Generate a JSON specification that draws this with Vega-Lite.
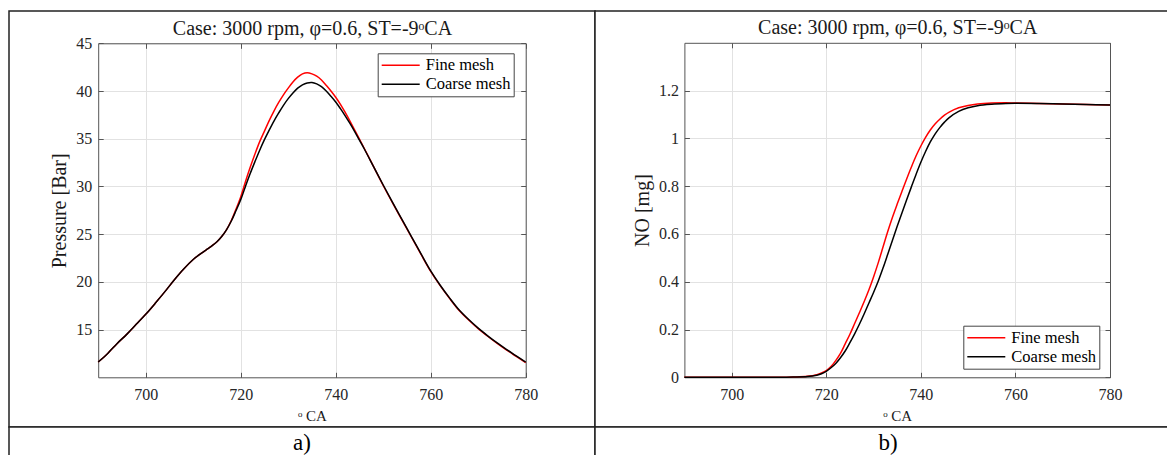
{
  "$schema": "https://vega.github.io/schema/vega-lite/v6.json",
  "background": "white",
  "padding": {"left": 8, "top": 10, "right": 0, "bottom": 0},
  "columns": 2,
  "spacing": 0,
  "bounds": "flush",
  "align": "each",
  "config": {
    "font": "Liberation Serif",
    "view": {"stroke": "#222222", "strokeWidth": 1.5, "fill": "white"},
    "axis": {
      "labelFont": "Liberation Serif",
      "labelFontSize": 16,
      "labelColor": "#262626",
      "labelFlush": false,
      "labelOverlap": false,
      "titleFont": "Liberation Serif",
      "titleFontWeight": "normal",
      "titleColor": "#1a1a1a",
      "domainColor": "#555555",
      "domainWidth": 1,
      "tickColor": "#555555",
      "tickSize": -5,
      "tickWidth": 1,
      "gridColor": "#e2e2e2",
      "gridWidth": 1,
      "minExtent": 0
    },
    "legend": {
      "labelFont": "Liberation Serif",
      "labelFontSize": 16.5,
      "labelColor": "#000000",
      "symbolType": "stroke",
      "symbolSize": 1444,
      "symbolStrokeWidth": 1.5,
      "clipHeight": 18,
      "rowPadding": 1,
      "labelOffset": 5,
      "padding": 3,
      "strokeColor": "#444444",
      "fillColor": "white",
      "cornerRadius": 0
    }
  },
  "resolve": {"scale": {"color": "independent"}, "legend": {"color": "independent"}},
  "datasets": {
    "pres": [
      {"ca": 690, "val": 11.6, "mesh": "Fine mesh"},
      {"ca": 692, "val": 12.5, "mesh": "Fine mesh"},
      {"ca": 694, "val": 13.55, "mesh": "Fine mesh"},
      {"ca": 696, "val": 14.5, "mesh": "Fine mesh"},
      {"ca": 698, "val": 15.55, "mesh": "Fine mesh"},
      {"ca": 700, "val": 16.6, "mesh": "Fine mesh"},
      {"ca": 702, "val": 17.75, "mesh": "Fine mesh"},
      {"ca": 704, "val": 18.95, "mesh": "Fine mesh"},
      {"ca": 706, "val": 20.2, "mesh": "Fine mesh"},
      {"ca": 708, "val": 21.35, "mesh": "Fine mesh"},
      {"ca": 710, "val": 22.35, "mesh": "Fine mesh"},
      {"ca": 712, "val": 23.1, "mesh": "Fine mesh"},
      {"ca": 713, "val": 23.45, "mesh": "Fine mesh"},
      {"ca": 714, "val": 23.8, "mesh": "Fine mesh"},
      {"ca": 715, "val": 24.2, "mesh": "Fine mesh"},
      {"ca": 716, "val": 24.75, "mesh": "Fine mesh"},
      {"ca": 717, "val": 25.45, "mesh": "Fine mesh"},
      {"ca": 718, "val": 26.4, "mesh": "Fine mesh"},
      {"ca": 719, "val": 27.6, "mesh": "Fine mesh"},
      {"ca": 720, "val": 28.9, "mesh": "Fine mesh"},
      {"ca": 721, "val": 30.5, "mesh": "Fine mesh"},
      {"ca": 722, "val": 32.0, "mesh": "Fine mesh"},
      {"ca": 723, "val": 33.4, "mesh": "Fine mesh"},
      {"ca": 724, "val": 34.7, "mesh": "Fine mesh"},
      {"ca": 725, "val": 35.8, "mesh": "Fine mesh"},
      {"ca": 726, "val": 36.9, "mesh": "Fine mesh"},
      {"ca": 727, "val": 37.9, "mesh": "Fine mesh"},
      {"ca": 728, "val": 38.8, "mesh": "Fine mesh"},
      {"ca": 729, "val": 39.6, "mesh": "Fine mesh"},
      {"ca": 730, "val": 40.3, "mesh": "Fine mesh"},
      {"ca": 731, "val": 40.95, "mesh": "Fine mesh"},
      {"ca": 732, "val": 41.45, "mesh": "Fine mesh"},
      {"ca": 733, "val": 41.8, "mesh": "Fine mesh"},
      {"ca": 734, "val": 41.92, "mesh": "Fine mesh"},
      {"ca": 735, "val": 41.8, "mesh": "Fine mesh"},
      {"ca": 736, "val": 41.55, "mesh": "Fine mesh"},
      {"ca": 737, "val": 41.15, "mesh": "Fine mesh"},
      {"ca": 738, "val": 40.6, "mesh": "Fine mesh"},
      {"ca": 739, "val": 40.0, "mesh": "Fine mesh"},
      {"ca": 740, "val": 39.35, "mesh": "Fine mesh"},
      {"ca": 741, "val": 38.6, "mesh": "Fine mesh"},
      {"ca": 742, "val": 37.75, "mesh": "Fine mesh"},
      {"ca": 743, "val": 36.85, "mesh": "Fine mesh"},
      {"ca": 744, "val": 35.9, "mesh": "Fine mesh"},
      {"ca": 745, "val": 34.95, "mesh": "Fine mesh"},
      {"ca": 746, "val": 34.0, "mesh": "Fine mesh"},
      {"ca": 748, "val": 32.05, "mesh": "Fine mesh"},
      {"ca": 750, "val": 30.1, "mesh": "Fine mesh"},
      {"ca": 752, "val": 28.25, "mesh": "Fine mesh"},
      {"ca": 754, "val": 26.45, "mesh": "Fine mesh"},
      {"ca": 756, "val": 24.65, "mesh": "Fine mesh"},
      {"ca": 758, "val": 22.85, "mesh": "Fine mesh"},
      {"ca": 760, "val": 21.1, "mesh": "Fine mesh"},
      {"ca": 762, "val": 19.6, "mesh": "Fine mesh"},
      {"ca": 764, "val": 18.25, "mesh": "Fine mesh"},
      {"ca": 766, "val": 17.0, "mesh": "Fine mesh"},
      {"ca": 768, "val": 16.0, "mesh": "Fine mesh"},
      {"ca": 770, "val": 15.1, "mesh": "Fine mesh"},
      {"ca": 772, "val": 14.3, "mesh": "Fine mesh"},
      {"ca": 774, "val": 13.55, "mesh": "Fine mesh"},
      {"ca": 776, "val": 12.85, "mesh": "Fine mesh"},
      {"ca": 778, "val": 12.2, "mesh": "Fine mesh"},
      {"ca": 780, "val": 11.55, "mesh": "Fine mesh"},
      {"ca": 690, "val": 11.6, "mesh": "Coarse mesh"},
      {"ca": 692, "val": 12.5, "mesh": "Coarse mesh"},
      {"ca": 694, "val": 13.55, "mesh": "Coarse mesh"},
      {"ca": 696, "val": 14.5, "mesh": "Coarse mesh"},
      {"ca": 698, "val": 15.55, "mesh": "Coarse mesh"},
      {"ca": 700, "val": 16.6, "mesh": "Coarse mesh"},
      {"ca": 702, "val": 17.75, "mesh": "Coarse mesh"},
      {"ca": 704, "val": 18.95, "mesh": "Coarse mesh"},
      {"ca": 706, "val": 20.2, "mesh": "Coarse mesh"},
      {"ca": 708, "val": 21.35, "mesh": "Coarse mesh"},
      {"ca": 710, "val": 22.35, "mesh": "Coarse mesh"},
      {"ca": 712, "val": 23.1, "mesh": "Coarse mesh"},
      {"ca": 713, "val": 23.45, "mesh": "Coarse mesh"},
      {"ca": 714, "val": 23.8, "mesh": "Coarse mesh"},
      {"ca": 715, "val": 24.2, "mesh": "Coarse mesh"},
      {"ca": 716, "val": 24.75, "mesh": "Coarse mesh"},
      {"ca": 717, "val": 25.45, "mesh": "Coarse mesh"},
      {"ca": 718, "val": 26.35, "mesh": "Coarse mesh"},
      {"ca": 719, "val": 27.45, "mesh": "Coarse mesh"},
      {"ca": 720, "val": 28.6, "mesh": "Coarse mesh"},
      {"ca": 721, "val": 30.0, "mesh": "Coarse mesh"},
      {"ca": 722, "val": 31.35, "mesh": "Coarse mesh"},
      {"ca": 723, "val": 32.6, "mesh": "Coarse mesh"},
      {"ca": 724, "val": 33.8, "mesh": "Coarse mesh"},
      {"ca": 725, "val": 34.9, "mesh": "Coarse mesh"},
      {"ca": 726, "val": 35.9, "mesh": "Coarse mesh"},
      {"ca": 727, "val": 36.85, "mesh": "Coarse mesh"},
      {"ca": 728, "val": 37.7, "mesh": "Coarse mesh"},
      {"ca": 729, "val": 38.5, "mesh": "Coarse mesh"},
      {"ca": 730, "val": 39.2, "mesh": "Coarse mesh"},
      {"ca": 731, "val": 39.8, "mesh": "Coarse mesh"},
      {"ca": 732, "val": 40.3, "mesh": "Coarse mesh"},
      {"ca": 733, "val": 40.65, "mesh": "Coarse mesh"},
      {"ca": 734, "val": 40.85, "mesh": "Coarse mesh"},
      {"ca": 735, "val": 40.9, "mesh": "Coarse mesh"},
      {"ca": 736, "val": 40.75, "mesh": "Coarse mesh"},
      {"ca": 737, "val": 40.45, "mesh": "Coarse mesh"},
      {"ca": 738, "val": 40.0, "mesh": "Coarse mesh"},
      {"ca": 739, "val": 39.45, "mesh": "Coarse mesh"},
      {"ca": 740, "val": 38.85, "mesh": "Coarse mesh"},
      {"ca": 741, "val": 38.15, "mesh": "Coarse mesh"},
      {"ca": 742, "val": 37.4, "mesh": "Coarse mesh"},
      {"ca": 743, "val": 36.6, "mesh": "Coarse mesh"},
      {"ca": 744, "val": 35.75, "mesh": "Coarse mesh"},
      {"ca": 745, "val": 34.85, "mesh": "Coarse mesh"},
      {"ca": 746, "val": 33.95, "mesh": "Coarse mesh"},
      {"ca": 748, "val": 32.05, "mesh": "Coarse mesh"},
      {"ca": 750, "val": 30.15, "mesh": "Coarse mesh"},
      {"ca": 752, "val": 28.3, "mesh": "Coarse mesh"},
      {"ca": 754, "val": 26.5, "mesh": "Coarse mesh"},
      {"ca": 756, "val": 24.7, "mesh": "Coarse mesh"},
      {"ca": 758, "val": 22.9, "mesh": "Coarse mesh"},
      {"ca": 760, "val": 21.15, "mesh": "Coarse mesh"},
      {"ca": 762, "val": 19.65, "mesh": "Coarse mesh"},
      {"ca": 764, "val": 18.3, "mesh": "Coarse mesh"},
      {"ca": 766, "val": 17.05, "mesh": "Coarse mesh"},
      {"ca": 768, "val": 16.05, "mesh": "Coarse mesh"},
      {"ca": 770, "val": 15.15, "mesh": "Coarse mesh"},
      {"ca": 772, "val": 14.35, "mesh": "Coarse mesh"},
      {"ca": 774, "val": 13.6, "mesh": "Coarse mesh"},
      {"ca": 776, "val": 12.9, "mesh": "Coarse mesh"},
      {"ca": 778, "val": 12.25, "mesh": "Coarse mesh"},
      {"ca": 780, "val": 11.6, "mesh": "Coarse mesh"}
    ],
    "nox": [
      {"ca": 690, "val": 0, "mesh": "Fine mesh"},
      {"ca": 700, "val": 0, "mesh": "Fine mesh"},
      {"ca": 710, "val": 0, "mesh": "Fine mesh"},
      {"ca": 713, "val": 0.001, "mesh": "Fine mesh"},
      {"ca": 716, "val": 0.004, "mesh": "Fine mesh"},
      {"ca": 718, "val": 0.011, "mesh": "Fine mesh"},
      {"ca": 719, "val": 0.018, "mesh": "Fine mesh"},
      {"ca": 720, "val": 0.028, "mesh": "Fine mesh"},
      {"ca": 721, "val": 0.045, "mesh": "Fine mesh"},
      {"ca": 722, "val": 0.07, "mesh": "Fine mesh"},
      {"ca": 723, "val": 0.1, "mesh": "Fine mesh"},
      {"ca": 724, "val": 0.14, "mesh": "Fine mesh"},
      {"ca": 725, "val": 0.18, "mesh": "Fine mesh"},
      {"ca": 726, "val": 0.225, "mesh": "Fine mesh"},
      {"ca": 727, "val": 0.27, "mesh": "Fine mesh"},
      {"ca": 728, "val": 0.316, "mesh": "Fine mesh"},
      {"ca": 729, "val": 0.365, "mesh": "Fine mesh"},
      {"ca": 730, "val": 0.42, "mesh": "Fine mesh"},
      {"ca": 731, "val": 0.48, "mesh": "Fine mesh"},
      {"ca": 732, "val": 0.545, "mesh": "Fine mesh"},
      {"ca": 733, "val": 0.61, "mesh": "Fine mesh"},
      {"ca": 734, "val": 0.67, "mesh": "Fine mesh"},
      {"ca": 735, "val": 0.725, "mesh": "Fine mesh"},
      {"ca": 736, "val": 0.778, "mesh": "Fine mesh"},
      {"ca": 737, "val": 0.83, "mesh": "Fine mesh"},
      {"ca": 738, "val": 0.88, "mesh": "Fine mesh"},
      {"ca": 739, "val": 0.927, "mesh": "Fine mesh"},
      {"ca": 740, "val": 0.968, "mesh": "Fine mesh"},
      {"ca": 741, "val": 1.004, "mesh": "Fine mesh"},
      {"ca": 742, "val": 1.035, "mesh": "Fine mesh"},
      {"ca": 743, "val": 1.06, "mesh": "Fine mesh"},
      {"ca": 744, "val": 1.08, "mesh": "Fine mesh"},
      {"ca": 745, "val": 1.097, "mesh": "Fine mesh"},
      {"ca": 746, "val": 1.11, "mesh": "Fine mesh"},
      {"ca": 748, "val": 1.128, "mesh": "Fine mesh"},
      {"ca": 750, "val": 1.138, "mesh": "Fine mesh"},
      {"ca": 752, "val": 1.144, "mesh": "Fine mesh"},
      {"ca": 755, "val": 1.148, "mesh": "Fine mesh"},
      {"ca": 758, "val": 1.149, "mesh": "Fine mesh"},
      {"ca": 760, "val": 1.148, "mesh": "Fine mesh"},
      {"ca": 765, "val": 1.146, "mesh": "Fine mesh"},
      {"ca": 770, "val": 1.144, "mesh": "Fine mesh"},
      {"ca": 775, "val": 1.142, "mesh": "Fine mesh"},
      {"ca": 780, "val": 1.14, "mesh": "Fine mesh"},
      {"ca": 690, "val": 0, "mesh": "Coarse mesh"},
      {"ca": 700, "val": 0, "mesh": "Coarse mesh"},
      {"ca": 710, "val": 0, "mesh": "Coarse mesh"},
      {"ca": 713, "val": 0.001, "mesh": "Coarse mesh"},
      {"ca": 716, "val": 0.003, "mesh": "Coarse mesh"},
      {"ca": 718, "val": 0.009, "mesh": "Coarse mesh"},
      {"ca": 719, "val": 0.015, "mesh": "Coarse mesh"},
      {"ca": 720, "val": 0.025, "mesh": "Coarse mesh"},
      {"ca": 721, "val": 0.04, "mesh": "Coarse mesh"},
      {"ca": 722, "val": 0.058, "mesh": "Coarse mesh"},
      {"ca": 723, "val": 0.082, "mesh": "Coarse mesh"},
      {"ca": 724, "val": 0.11, "mesh": "Coarse mesh"},
      {"ca": 725, "val": 0.145, "mesh": "Coarse mesh"},
      {"ca": 726, "val": 0.182, "mesh": "Coarse mesh"},
      {"ca": 727, "val": 0.222, "mesh": "Coarse mesh"},
      {"ca": 728, "val": 0.265, "mesh": "Coarse mesh"},
      {"ca": 729, "val": 0.31, "mesh": "Coarse mesh"},
      {"ca": 730, "val": 0.355, "mesh": "Coarse mesh"},
      {"ca": 731, "val": 0.403, "mesh": "Coarse mesh"},
      {"ca": 732, "val": 0.457, "mesh": "Coarse mesh"},
      {"ca": 733, "val": 0.515, "mesh": "Coarse mesh"},
      {"ca": 734, "val": 0.574, "mesh": "Coarse mesh"},
      {"ca": 735, "val": 0.632, "mesh": "Coarse mesh"},
      {"ca": 736, "val": 0.688, "mesh": "Coarse mesh"},
      {"ca": 737, "val": 0.743, "mesh": "Coarse mesh"},
      {"ca": 738, "val": 0.797, "mesh": "Coarse mesh"},
      {"ca": 739, "val": 0.85, "mesh": "Coarse mesh"},
      {"ca": 740, "val": 0.9, "mesh": "Coarse mesh"},
      {"ca": 741, "val": 0.945, "mesh": "Coarse mesh"},
      {"ca": 742, "val": 0.985, "mesh": "Coarse mesh"},
      {"ca": 743, "val": 1.018, "mesh": "Coarse mesh"},
      {"ca": 744, "val": 1.045, "mesh": "Coarse mesh"},
      {"ca": 745, "val": 1.068, "mesh": "Coarse mesh"},
      {"ca": 746, "val": 1.087, "mesh": "Coarse mesh"},
      {"ca": 748, "val": 1.113, "mesh": "Coarse mesh"},
      {"ca": 750, "val": 1.128, "mesh": "Coarse mesh"},
      {"ca": 752, "val": 1.137, "mesh": "Coarse mesh"},
      {"ca": 755, "val": 1.143, "mesh": "Coarse mesh"},
      {"ca": 758, "val": 1.146, "mesh": "Coarse mesh"},
      {"ca": 760, "val": 1.147, "mesh": "Coarse mesh"},
      {"ca": 765, "val": 1.146, "mesh": "Coarse mesh"},
      {"ca": 770, "val": 1.144, "mesh": "Coarse mesh"},
      {"ca": 775, "val": 1.142, "mesh": "Coarse mesh"},
      {"ca": 780, "val": 1.14, "mesh": "Coarse mesh"}
    ]
  },
  "concat": [
    {
      "width": 586,
      "height": 416,
      "data": {"name": "pres"},
      "layer": [
        {
          "mark": {"type": "line", "strokeWidth": 1.5, "interpolate": "catmull-rom"},
          "encoding": {
            "x": {
              "field": "ca", "type": "quantitative",
              "scale": {"domain": [690, 780], "range": [89.2, 516.7], "nice": false, "zero": false},
              "axis": {"orient": "bottom", "offset": -49.7, "values": [700, 720, 740, 760, 780], "grid": false, "labelFont": "Liberation Serif", "labelFontSize": 16, "labelColor": "#262626", "labelPadding": 14, "title": "ᵒ CA", "titleFont": "Liberation Serif", "titleFontSize": 15, "titlePadding": 6}
            },
            "y": {
              "field": "val", "type": "quantitative",
              "scale": {"domain": [10, 45], "range": [366.3, 32.3], "nice": false, "zero": false},
              "axis": {"orient": "left", "offset": -89.2, "values": [15, 20, 25, 30, 35, 40, 45], "grid": true, "labelFont": "Liberation Serif", "labelFontSize": 16, "labelColor": "#262626", "labelPadding": 11.5, "title": "Pressure [Bar]", "titleFont": "Liberation Serif", "titleFontSize": 20, "titlePadding": 6}
            },
            "color": {
              "field": "mesh", "type": "nominal",
              "scale": {"domain": ["Fine mesh", "Coarse mesh"], "range": ["#ff0000", "#000000"]},
              "legend": {"orient": "none", "legendX": 368.7, "legendY": 42.3, "title": null}
            }
          }
        },
        {
          "mark": {"type": "line", "opacity": 0},
          "encoding": {
            "x": {
              "field": "ca", "type": "quantitative",
              "axis": {"orient": "top", "offset": -32.3, "values": [700, 720, 740, 760, 780], "grid": true, "labels": false, "title": "Case: 3000 rpm, φ=0.6, ST=-9ᵒCA", "titleFont": "Liberation Serif", "titleFontSize": 20, "titlePadding": 4.5}
            },
            "y": {
              "field": "val", "type": "quantitative",
              "axis": {"orient": "right", "offset": -69.3, "values": [15, 20, 25, 30, 35, 40, 45], "grid": false, "labels": false, "title": null}
            },
            "detail": {"field": "mesh"}
          }
        }
      ],
      "resolve": {"axis": {"x": "independent", "y": "independent"}}
    },
    {
      "width": 586,
      "height": 416,
      "data": {"name": "nox"},
      "layer": [
        {
          "mark": {"type": "line", "strokeWidth": 1.5, "interpolate": "catmull-rom"},
          "encoding": {
            "x": {
              "field": "ca", "type": "quantitative",
              "scale": {"domain": [690, 780], "range": [89.4, 515], "nice": false, "zero": false},
              "axis": {"orient": "bottom", "offset": -49.7, "values": [700, 720, 740, 760, 780], "grid": false, "labelFont": "Liberation Serif", "labelFontSize": 16, "labelColor": "#262626", "labelPadding": 14, "title": "ᵒ CA", "titleFont": "Liberation Serif", "titleFontSize": 15, "titlePadding": 6}
            },
            "y": {
              "field": "val", "type": "quantitative",
              "scale": {"domain": [0, 1.4], "range": [366.3, 31.8], "nice": false, "zero": false},
              "axis": {"orient": "left", "offset": -89.4, "values": [0, 0.2, 0.4, 0.6, 0.8, 1, 1.2], "format": "~g", "grid": true, "labelFont": "Liberation Serif", "labelFontSize": 16, "labelColor": "#262626", "labelPadding": 11, "title": "NO [mg]", "titleFont": "Liberation Serif", "titleFontSize": 20, "titlePadding": 6}
            },
            "color": {
              "field": "mesh", "type": "nominal",
              "scale": {"domain": ["Fine mesh", "Coarse mesh"], "range": ["#ff0000", "#000000"]},
              "legend": {"orient": "none", "legendX": 368.3, "legendY": 314.7, "title": null}
            }
          }
        },
        {
          "mark": {"type": "line", "opacity": 0},
          "encoding": {
            "x": {
              "field": "ca", "type": "quantitative",
              "axis": {"orient": "top", "offset": -31.8, "values": [700, 720, 740, 760, 780], "grid": true, "labels": false, "title": "Case: 3000 rpm, φ=0.6, ST=-9ᵒCA", "titleFont": "Liberation Serif", "titleFontSize": 20, "titlePadding": 4.5}
            },
            "y": {
              "field": "val", "type": "quantitative",
              "axis": {"orient": "right", "offset": -71, "values": [0, 0.2, 0.4, 0.6, 0.8, 1, 1.2], "grid": false, "labels": false, "title": null}
            },
            "detail": {"field": "mesh"}
          }
        }
      ],
      "resolve": {"axis": {"x": "independent", "y": "independent"}}
    },
    {
      "width": 586,
      "height": 32,
      "data": {"values": [{"label": "a)"}]},
      "mark": {"type": "text", "fontSize": 23, "font": "Liberation Serif", "baseline": "middle", "color": "#000000"},
      "encoding": {
        "x": {"field": "label", "type": "nominal", "axis": null},
        "y": {"field": "label", "type": "nominal", "axis": null},
        "text": {"field": "label"}
      }
    },
    {
      "width": 586,
      "height": 32,
      "data": {"values": [{"label": "b)"}]},
      "mark": {"type": "text", "fontSize": 23, "font": "Liberation Serif", "baseline": "middle", "color": "#000000"},
      "encoding": {
        "x": {"field": "label", "type": "nominal", "axis": null},
        "y": {"field": "label", "type": "nominal", "axis": null},
        "text": {"field": "label"}
      }
    }
  ]
}
